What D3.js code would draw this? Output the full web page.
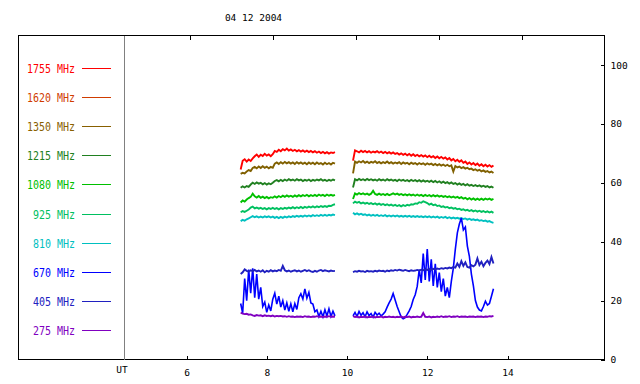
<!DOCTYPE html>
<html><head><meta charset="utf-8">
<script src="https://cdn.jsdelivr.net/npm/d3@7"></script>
<style>
html,body{margin:0;padding:0;background:#fff;}
svg{display:block;}
text{font-family:"DejaVu Sans Mono","Liberation Mono",monospace;}
</style></head>
<body>
<svg id="c" width="640" height="384"></svg>
<script>
// ---------- DATA ----------
const title = "04 12 2004";
const xTicks = [6, 8, 10, 12, 14];
const yTicks = [0, 20, 40, 60, 80, 100];
const legendLabels = ["1755 MHz","1620 MHz","1350 MHz","1215 MHz","1080 MHz","925 MHz","810 MHz","670 MHz","405 MHz","275 MHz"];
const legendColors = ["#ff0000","#d03c00","#886000","#208020","#00c000","#00c060","#00c0c0","#0000ff","#2020c0","#8000c0"];

// sample times (UT hours) of the two observing segments
const t1 = d3.range(48).map(i => +(7.35 + i * 0.05).toFixed(2));
const t2 = d3.range(71).map(i => +(10.15 + i * 0.05).toFixed(2));

const s1755a = [64.5,67.5,68.0,67.2,67.9,67.4,68.3,69.0,69.6,68.8,69.5,69.1,69.8,69.2,69.6,69.0,69.7,70.8,70.5,71.2,70.7,71.4,71.0,71.6,70.9,71.3,70.8,71.2,70.7,71.1,70.6,71.0,70.5,70.9,70.4,70.8,70.3,70.7,70.2,70.6,70.1,70.5,70.0,70.4,69.9,70.3,70.1,70.4];
const s1755b = [67.5,71.0,70.7,70.3,70.9,70.4,70.8,70.3,70.7,70.2,70.6,70.3,70.7,70.2,70.6,70.1,70.5,70.0,70.4,69.9,70.3,69.8,70.1,69.6,70.0,69.5,69.9,69.3,69.8,69.2,69.7,69.1,69.5,69.0,69.4,68.9,69.3,68.7,69.2,68.6,69.0,68.4,68.9,68.3,68.8,68.2,68.6,67.9,68.4,67.6,68.1,67.3,67.8,67.1,67.6,66.8,67.2,66.4,66.9,66.2,66.7,66.0,66.5,65.8,66.3,65.6,66.1,65.5,66.0,65.4,65.9];
const s1620a = [];
const s1620b = [];
const s1350a = [63.0,63.4,63.2,63.8,64.3,64.0,65.0,65.4,64.9,65.5,65.0,65.6,65.1,65.5,64.9,65.4,65.1,66.5,66.9,66.4,67.0,66.5,67.1,66.6,67.0,66.5,66.9,66.4,67.0,66.5,66.9,66.4,66.8,66.3,66.9,66.4,66.8,66.3,66.9,66.4,66.7,66.2,66.8,66.3,66.7,66.2,66.8,66.5];
const s1350b = [63.2,67.2,66.8,67.3,66.9,67.4,66.8,67.2,66.7,67.1,66.8,67.3,66.7,67.1,66.6,67.0,66.7,67.2,66.6,67.0,66.5,66.9,66.6,67.0,66.4,66.9,66.5,66.8,66.3,66.8,66.4,66.7,66.2,66.7,66.3,66.6,66.1,66.6,66.2,66.5,66.0,66.4,65.9,66.3,65.8,66.2,65.7,66.1,65.6,65.9,63.8,65.7,65.2,65.5,65.0,65.3,64.8,65.1,64.6,64.8,64.3,64.6,64.1,64.4,63.9,64.2,63.7,64.0,63.5,63.8,63.3];
const s1215a = [58.3,58.8,58.4,58.9,58.6,59.4,60.0,59.6,60.1,59.7,60.0,59.5,59.9,59.4,59.8,59.5,60.0,60.6,60.9,60.5,61.0,60.6,61.1,60.7,61.2,60.8,61.1,60.7,61.2,60.8,61.1,60.6,61.0,60.7,61.1,60.6,61.0,60.7,61.1,60.8,61.2,60.7,61.0,60.6,61.0,60.7,61.1,60.8];
const s1215b = [58.4,61.2,60.8,61.3,60.9,61.2,60.8,61.3,60.9,61.2,60.8,61.1,60.7,61.2,60.8,61.1,60.7,61.2,60.8,61.1,60.7,61.0,60.6,61.1,60.7,61.0,60.6,60.9,60.5,61.0,60.6,60.9,60.5,60.9,60.4,60.8,60.4,60.7,60.3,60.7,60.2,60.6,60.1,60.5,60.0,60.4,59.9,60.2,59.7,60.1,59.6,59.9,59.4,59.8,59.3,59.6,59.1,59.5,59.0,59.3,58.9,59.2,58.8,59.1,58.7,59.0,58.6,58.9,58.4,58.7,58.3];
const s1080a = [53.3,54.0,53.6,54.3,54.8,55.2,56.3,55.4,55.0,55.5,54.9,55.3,54.8,55.2,54.7,55.1,54.9,55.4,55.0,55.5,55.1,55.6,55.2,55.7,55.3,55.6,55.2,55.7,55.3,55.8,55.4,55.8,55.5,55.9,55.4,55.8,55.5,55.9,55.5,56.0,55.6,55.9,55.5,56.0,55.6,55.9,55.6,55.9];
const s1080b = [54.5,56.4,56.0,56.5,56.1,56.4,56.0,56.3,55.9,56.3,57.3,56.2,55.9,56.3,55.9,56.2,55.8,56.2,55.8,56.1,56.4,56.0,56.3,55.9,56.2,55.8,56.1,55.7,56.1,55.7,56.0,55.6,56.0,55.6,55.9,55.5,55.9,55.5,55.8,55.4,55.8,55.4,55.7,55.3,55.6,55.2,55.5,55.1,55.4,55.0,55.3,54.9,55.2,54.8,55.1,54.6,54.9,54.4,54.8,54.3,54.7,54.2,54.6,54.2,54.6,54.2,54.6,54.3,54.6,54.2,54.5];
const s925a = [50.0,50.4,50.1,50.5,50.9,51.6,51.9,51.3,51.6,51.2,51.5,51.1,51.4,51.0,51.4,51.1,51.5,51.1,51.4,51.0,51.4,51.1,51.5,51.2,51.6,51.3,51.7,51.3,51.7,51.4,51.8,51.4,51.8,51.5,51.9,51.6,52.0,51.6,52.0,51.7,52.1,51.8,52.1,51.8,52.2,52.1,52.5,52.7];
const s925b = [53.0,53.6,53.2,53.5,53.0,53.3,52.9,53.2,52.8,53.1,52.7,53.0,52.6,52.9,52.5,52.8,52.4,52.7,52.3,52.6,52.2,52.5,52.1,52.4,52.0,52.4,52.1,52.5,52.3,52.7,52.6,53.0,52.9,53.4,53.2,53.7,53.4,53.1,52.6,52.9,52.4,52.6,52.1,52.3,51.8,52.0,51.6,51.8,51.4,51.6,51.2,51.4,51.0,51.2,50.8,51.0,50.6,50.8,50.4,50.7,50.3,50.6,50.2,50.5,50.1,50.4,50.0,50.3,49.9,50.2,49.8];
const s810a = [47.0,47.4,47.1,47.6,47.9,48.3,48.7,48.3,48.6,48.2,48.5,48.2,48.6,48.3,48.6,48.2,48.5,48.1,48.4,48.0,48.4,48.1,48.5,48.2,48.6,48.3,48.7,48.4,48.8,48.5,48.8,48.5,48.9,48.6,48.9,48.6,49.0,48.7,49.0,48.7,49.1,48.8,49.1,48.8,49.1,48.9,49.2,49.0];
const s810b = [49.8,49.3,49.6,49.2,49.5,49.1,49.3,48.9,49.2,48.8,49.1,48.8,49.1,48.7,49.0,48.7,49.0,48.6,48.9,48.6,48.9,48.6,48.9,48.5,48.8,48.5,48.8,48.5,48.8,48.4,48.7,48.4,48.7,48.4,48.6,48.3,48.6,48.3,48.6,48.2,48.5,48.2,48.5,48.1,48.4,48.1,48.4,48.0,48.3,47.9,48.2,47.9,48.1,47.8,48.0,47.7,47.9,47.5,47.8,47.4,47.6,47.3,47.5,47.1,47.3,47.0,47.2,46.8,47.0,46.6,46.4];
const s670a = [19.0,15.8,27.5,20.0,30.5,22.5,31.0,21.0,29.0,20.5,24.5,18.0,19.5,16.0,18.5,16.5,20.5,22.5,18.8,21.5,17.8,20.0,16.8,19.2,16.4,18.9,16.2,19.0,17.0,21.0,22.3,20.5,24.0,20.8,22.8,19.2,18.8,16.2,16.8,14.6,16.4,14.5,16.9,14.8,17.2,14.6,16.4,14.8];
const s670b = [14.8,16.0,14.6,16.3,15.0,15.9,14.5,16.2,14.9,15.6,14.4,16.0,15.1,15.7,14.8,15.4,16.2,17.8,19.2,20.5,22.4,20.2,18.0,16.2,14.4,13.8,14.2,15.3,16.5,18.0,20.4,22.0,24.8,30.5,26.0,36.0,27.0,37.5,26.5,34.0,25.0,32.5,24.5,29.5,23.0,27.5,21.5,24.5,21.0,26.5,31.0,37.5,43.0,46.0,48.0,44.0,45.0,38.5,35.0,29.0,25.0,20.0,17.8,16.8,16.5,18.0,19.8,18.5,19.0,21.5,24.0];
const s405a = [29.0,29.6,30.6,30.1,29.8,30.3,30.0,30.4,29.9,30.2,29.8,30.3,29.6,30.1,29.8,30.3,29.9,30.2,30.0,30.4,30.1,31.8,30.3,29.9,30.2,29.8,30.1,30.3,29.9,30.2,29.8,30.1,30.4,30.0,30.3,29.9,29.7,30.1,29.8,30.2,30.4,30.0,30.3,30.1,29.9,30.2,30.0,30.1];
const s405b = [29.7,30.0,29.8,30.1,29.9,30.0,29.7,30.1,29.9,30.0,29.8,30.1,29.9,30.2,30.0,30.1,29.8,30.2,30.0,30.3,30.1,30.4,30.2,30.5,30.3,30.1,30.4,30.2,30.0,30.3,30.1,30.2,30.4,30.2,30.5,30.3,30.6,30.4,30.7,30.5,30.8,30.6,30.9,30.7,31.0,30.8,31.1,30.9,31.2,31.0,31.4,31.2,32.6,31.5,33.4,31.8,33.0,31.4,31.2,32.0,31.6,32.2,34.3,32.1,33.2,31.7,32.8,33.6,32.4,34.8,32.6];
const s275a = [15.9,15.6,15.4,15.5,15.2,15.3,15.0,14.8,15.1,14.9,15.0,14.7,15.0,14.8,14.9,14.7,14.9,14.6,14.8,14.7,14.8,14.6,14.7,14.5,14.7,14.5,14.6,14.4,14.6,14.5,14.6,14.4,14.7,14.5,14.6,14.4,14.6,14.5,14.7,14.5,14.6,14.4,14.6,14.5,14.7,14.5,14.6,14.5];
const s275b = [14.7,14.4,14.6,14.3,14.5,14.4,14.6,14.3,14.5,14.4,14.6,14.3,14.5,14.4,14.6,14.3,14.5,14.4,14.6,14.4,14.5,14.3,14.5,14.4,14.6,14.3,14.5,14.4,14.6,14.3,14.5,14.4,14.6,14.4,14.5,15.8,14.5,14.4,14.6,14.3,14.5,14.4,14.6,14.4,14.7,14.4,14.6,14.5,14.7,14.4,14.6,14.5,14.7,14.4,14.6,14.5,14.6,14.4,14.6,14.5,14.6,14.4,14.6,14.5,14.6,14.4,14.6,14.5,14.7,14.6,14.8];

// series in drawing order: [legend index, segment A, segment B]
const seriesList = [
  [0, s1755a, s1755b], [1, s1620a, s1620b], [2, s1350a, s1350b], [3, s1215a, s1215b],
  [4, s1080a, s1080b], [5, s925a, s925b], [6, s810a, s810b],
  [7, s670a, s670b], [8, s405a, s405b], [9, s275a, s275b]
];

// ---------- LAYOUT ----------
const svg = d3.select("#c");
const L = 18.5, R = 604.5, T = 35.5, B = 359.5, UTX = 124.5;

const x = d3.scaleLinear().domain([6, 14]).range([186.5, 507.5]);
const xTop = d3.scaleLinear().domain([6, 14]).range([189.5, 521.5]);
const y = d3.scaleLinear().domain([0, 110]).range([B, T]);

// title
svg.append("text").attr("x", 253.5).attr("y", 21).attr("text-anchor", "middle")
  .attr("font-size", 9.5).attr("fill", "#000").text(title);

// frame
svg.append("path").attr("d", `M${L},${T}H${R}V${B}H${L}Z`)
  .attr("fill", "none").attr("stroke", "#000").attr("stroke-width", 1).attr("shape-rendering", "crispEdges");
svg.append("line").attr("x1", UTX).attr("x2", UTX).attr("y1", T).attr("y2", B)
  .attr("stroke", "#808080").attr("stroke-width", 1).attr("shape-rendering", "crispEdges");

// bottom axis (ticks inward)
const bottomAxis = d3.axisBottom(x).tickValues(xTicks).tickSizeInner(-4).tickSizeOuter(0).tickPadding(10).tickFormat(d3.format("d"));
const gb = svg.append("g").attr("transform", `translate(0,${B})`).call(bottomAxis);
gb.select(".domain").remove();
gb.selectAll("line").attr("stroke", "#000").attr("shape-rendering", "crispEdges");
gb.selectAll("text").attr("font-size", 9.5).attr("font-family", "DejaVu Sans Mono").attr("fill", "#000");
svg.append("text").attr("x", 122).attr("y", 373).attr("text-anchor", "middle")
  .attr("font-size", 9.5).attr("fill", "#000").text("UT");

// top ticks
const topAxis = d3.axisTop(xTop).tickValues(xTicks).tickSizeInner(-4).tickSizeOuter(0).tickFormat("");
const gt = svg.append("g").attr("transform", `translate(0,${T})`).call(topAxis);
gt.select(".domain").remove();
gt.selectAll("line").attr("stroke", "#000").attr("shape-rendering", "crispEdges");

// right axis (ticks inward)
const rightAxis = d3.axisRight(y).tickValues(yTicks).tickSizeInner(-4).tickSizeOuter(0).tickPadding(6).tickFormat(d3.format("d"));
const gr = svg.append("g").attr("transform", `translate(${R},0)`).call(rightAxis);
gr.select(".domain").remove();
gr.selectAll("line").attr("stroke", "#000").attr("shape-rendering", "crispEdges");
gr.selectAll("text").attr("font-size", 9.5).attr("font-family", "DejaVu Sans Mono").attr("fill", "#000");

// legend
const legY0 = 67.5, legStep = 29.2;
legendLabels.forEach((lab, i) => {
  const yy = Math.round(legY0 + i * legStep) + 0.5;
  svg.append("text").attr("x", 75).attr("y", yy + 4.5).attr("text-anchor", "end")
    .attr("font-size", 12).attr("fill", legendColors[i])
    .attr("textLength", lab.length * 6).attr("lengthAdjust", "spacingAndGlyphs").text(lab);
  svg.append("line").attr("x1", 82).attr("x2", 111).attr("y1", yy).attr("y2", yy)
    .attr("stroke", legendColors[i]).attr("stroke-width", 1).attr("shape-rendering", "crispEdges");
});

// data lines
const line = d3.line().x(d => x(d[0])).y(d => y(d[1]));
const plotColors = legendColors.slice();
plotColors[2] = "#806000";
const gData = svg.append("g");
seriesList.forEach(([li, a, b]) => {
  [[t1, a], [t2, b]].forEach(([ts, vals]) => {
    if (!vals.length) return;
    const pts = vals.map((v, k) => [ts[k], v]);
    gData.append("path").attr("d", line(pts)).attr("fill", "none")
      .attr("stroke", plotColors[li]).attr("stroke-width", li === 7 ? 1.6 : 1.9)
      .attr("stroke-linejoin", "miter");
  });
});
</script>
</body></html>
